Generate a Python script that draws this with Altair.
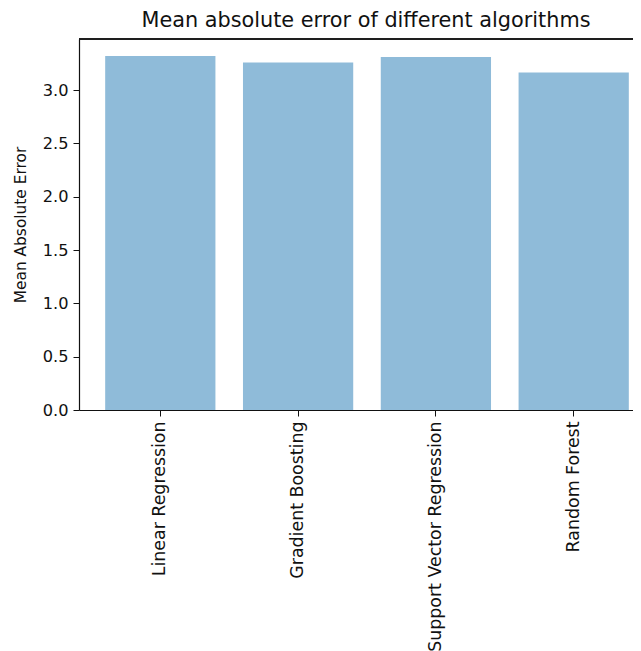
import altair as alt
import pandas as pd

algorithms = ["Linear Regression", "Gradient Boosting", "Support Vector Regression", "Random Forest"]
mae_values = [3.32, 3.26, 3.31, 3.165]
y_ticks = [0.0, 0.5, 1.0, 1.5, 2.0, 2.5, 3.0]

df = pd.DataFrame({"algorithm": algorithms, "mae": mae_values})

FONT = "DejaVu Sans"
W, H = 554, 371

bars = alt.Chart(df).mark_bar(color="#1f77b4", opacity=0.5).encode(
    x=alt.X("algorithm:N", sort=algorithms,
            scale=alt.Scale(range=[0, 576], paddingInner=0.2, paddingOuter=0.19),
            axis=alt.Axis(title=None, labelAngle=-90, labelFontSize=17.4, labelFont=FONT,
                          labelColor="#111", tickColor="#111", tickSize=6, labelPadding=5,
                          domainColor="#111", domainWidth=1.2, labelLimit=400)),
    y=alt.Y("mae:Q", scale=alt.Scale(domain=[0, 3.48], nice=False, zero=True),
            axis=alt.Axis(title="Mean Absolute Error", values=y_ticks, format=".1f",
                          grid=False, labelFontSize=16.2, labelFont=FONT, labelColor="#111",
                          tickColor="#111", tickSize=6, labelPadding=5,
                          domainColor="#111", domainWidth=1.2,
                          titleFont=FONT, titleFontSize=15.4, titleFontWeight="normal",
                          titleColor="#111", titlePadding=14)),
)

top_spine = alt.Chart(df).mark_rule(color="#111", strokeWidth=1.2).encode(
    x=alt.value(0), x2=alt.value(W), y=alt.value(0)
)

chart = alt.layer(bars, top_spine).properties(
    width=W, height=H,
    title=alt.TitleParams("Mean absolute error of different algorithms", font=FONT,
                          fontSize=20.8, fontWeight="normal", color="#111",
                          anchor="middle", offset=7, dx=10),
    autosize=alt.AutoSizeParams(type="none"),
    padding={"left": 71, "top": 31, "right": 0, "bottom": 242},
).configure_view(stroke=None)

chart.save("out.html", embed_options={"renderer": "svg", "actions": False})
